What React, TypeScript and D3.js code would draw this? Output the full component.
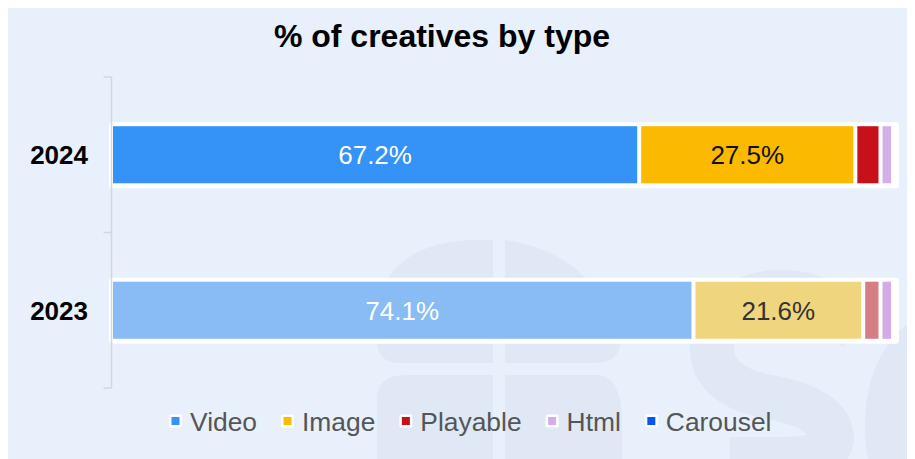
import React from "react";
import * as d3 from "d3";

const years = ["2024", "2023"];
const seriesNames = ["Video", "Image", "Playable", "Html", "Carousel"];
const video = [67.2, 74.1];
const image = [27.5, 21.6];
const playable = [3.2, 2.2];
const html = [1.6, 1.6];
const carousel = [0.5, 0.5];
const labelledSeries = ["Video", "Image"];

const colors2024 = ["#3592f7", "#fbb900", "#c8101a", "#d4aee8", "#0a55f5"];
const colors2023 = ["#89bbf5", "#f0d57f", "#d77d85", "#d4abe6", "#7aa3f5"];

const W = 915;
const H = 459;
const FONT = "'Liberation Sans', Arial, Helvetica, sans-serif";

function measure(text: string, font: string): number {
  const c = document.createElement("canvas");
  const ctx = c.getContext("2d");
  if (!ctx) return text.length * 13;
  ctx.font = font;
  return ctx.measureText(text).width;
}

export default function App() {
  const rows = years.map((yr, i) => ({
    year: yr,
    Video: video[i],
    Image: image[i],
    Playable: playable[i],
    Html: html[i],
    Carousel: carousel[i],
  }));
  const stack = d3.stack<any>().keys(seriesNames)(rows);

  const x = d3.scaleLinear().domain([0, 100]).range([111, 897]);
  const y = d3
    .scaleBand()
    .domain(years)
    .range([77, 388])
    .paddingInner(0.633)
    .paddingOuter(0.3165);
  const bw = y.bandwidth();
  const step = y.step();
  const boundaries = years
    .map((yr) => (y(yr) as number) - (step - bw) / 2)
    .concat([(y(years[years.length - 1]) as number) + bw + (step - bw) / 2]);
  const axisX = x(0) + 0.5;
  const axisPath =
    boundaries.map((b) => `M${axisX - 8},${b}H${axisX}`).join("") +
    `M${axisX},${boundaries[0]}V${boundaries[boundaries.length - 1]}`;

  // legend layout
  const legendSize = 26.4;
  const legendFont = `${legendSize}px ${FONT}`;
  let lx = 169;
  const legendItems = seriesNames.map((name, i) => {
    const tw = measure(name, legendFont);
    const item = { name, color: colors2024[i], x: lx, tw };
    lx += 13 + 8 + tw + 24;
    return item;
  });

  const bg = "#e7f0fb";
  const wm = "#dfe8f4";

  return (
    <svg width={W - 8} height={H - 8} style={{ display: "block" }}>
      <g transform="translate(-8,-8)">
        <rect x={7} y={7} width={W} height={H} fill={bg} />
        {/* watermark */}
        <g fill={wm}>
          <path d="M377,320 Q380,245 470,240 L493,240 L493,363 L400,363 Q377,363 377,340 Z" />
          <path d="M505,240 Q585,250 620,330 Q625,363 595,363 L505,363 Z" />
          <path d="M377,400 Q377,375 405,375 L493,375 L493,460 L377,460 Z" />
          <path d="M505,375 L600,375 Q622,380 622,420 L622,460 L505,460 Z" />
          <path
            d="M860,335 Q830,290 775,292 Q712,298 712,348 Q712,388 775,398 Q832,410 832,440 Q828,459 785,459 L730,459"
            fill="none"
            stroke={wm}
            strokeWidth={44}
          />
          <ellipse cx={945} cy={425} rx={58} ry={92} fill="none" stroke={wm} strokeWidth={44} />
        </g>

        <text
          x={442}
          y={47}
          textAnchor="middle"
          fontFamily={FONT}
          fontWeight="bold"
          fontSize={32}
          fill="#000"
        >
          % of creatives by type
        </text>

        {/* tracks */}
        {years.map((yr) => (
          <rect
            key={"t" + yr}
            x={x(0) - 2}
            y={(y(yr) as number) - 4}
            width={x(100) - x(0) + 4}
            height={bw + 9}
            rx={3}
            fill="#ffffff"
          />
        ))}

        {/* segments */}
        {stack.map((s, si) =>
          s.map((d, ri) => {
            const yr = years[ri];
            const x0 = x(d[0]) + 2;
            const w = x(d[1]) - x(d[0]) - 4;
            if (w <= 0) return null;
            const col = ri === 0 ? colors2024[si] : colors2023[si];
            return (
              <rect
                key={`${si}-${ri}`}
                x={x0}
                y={y(yr) as number}
                width={w}
                height={bw}
                fill={col}
              />
            );
          })
        )}

        {/* labels */}
        {stack.map((s, si) =>
          labelledSeries.includes(seriesNames[si])
            ? s.map((d, ri) => {
                const yr = years[ri];
                const v = d[1] - d[0];
                const fill =
                  seriesNames[si] === "Video" ? "#ffffff" : ri === 0 ? "#111111" : "#333333";
                return (
                  <text
                    key={`l${si}-${ri}`}
                    x={(x(d[0]) + x(d[1])) / 2}
                    y={(y(yr) as number) + bw / 2}
                    dy="0.36em"
                    textAnchor="middle"
                    fontFamily={FONT}
                    fontSize={26}
                    fill={fill}
                  >
                    {v.toFixed(1) + "%"}
                  </text>
                );
              })
            : null
        )}

        {/* axis */}
        <path d={axisPath} fill="none" stroke="#d4d8de" strokeWidth={1.5} />
        {years.map((yr) => (
          <text
            key={"c" + yr}
            x={88}
            y={(y(yr) as number) + bw / 2}
            dy="0.36em"
            textAnchor="end"
            fontFamily={FONT}
            fontWeight="bold"
            fontSize={26}
            fill="#000"
          >
            {yr}
          </text>
        ))}

        {/* legend */}
        {legendItems.map((it) => (
          <g key={"lg" + it.name}>
            <rect x={it.x} y={414.5} width={13} height={13} fill="#ffffff" rx={1.5} />
            <rect x={it.x + 2.5} y={417} width={8} height={8} fill={it.color} />
            <text
              x={it.x + 13 + 8}
              y={421}
              dy="0.36em"
              fontFamily={FONT}
              fontSize={legendSize}
              fill="#555555"
            >
              {it.name}
            </text>
          </g>
        ))}
      </g>
    </svg>
  );
}
